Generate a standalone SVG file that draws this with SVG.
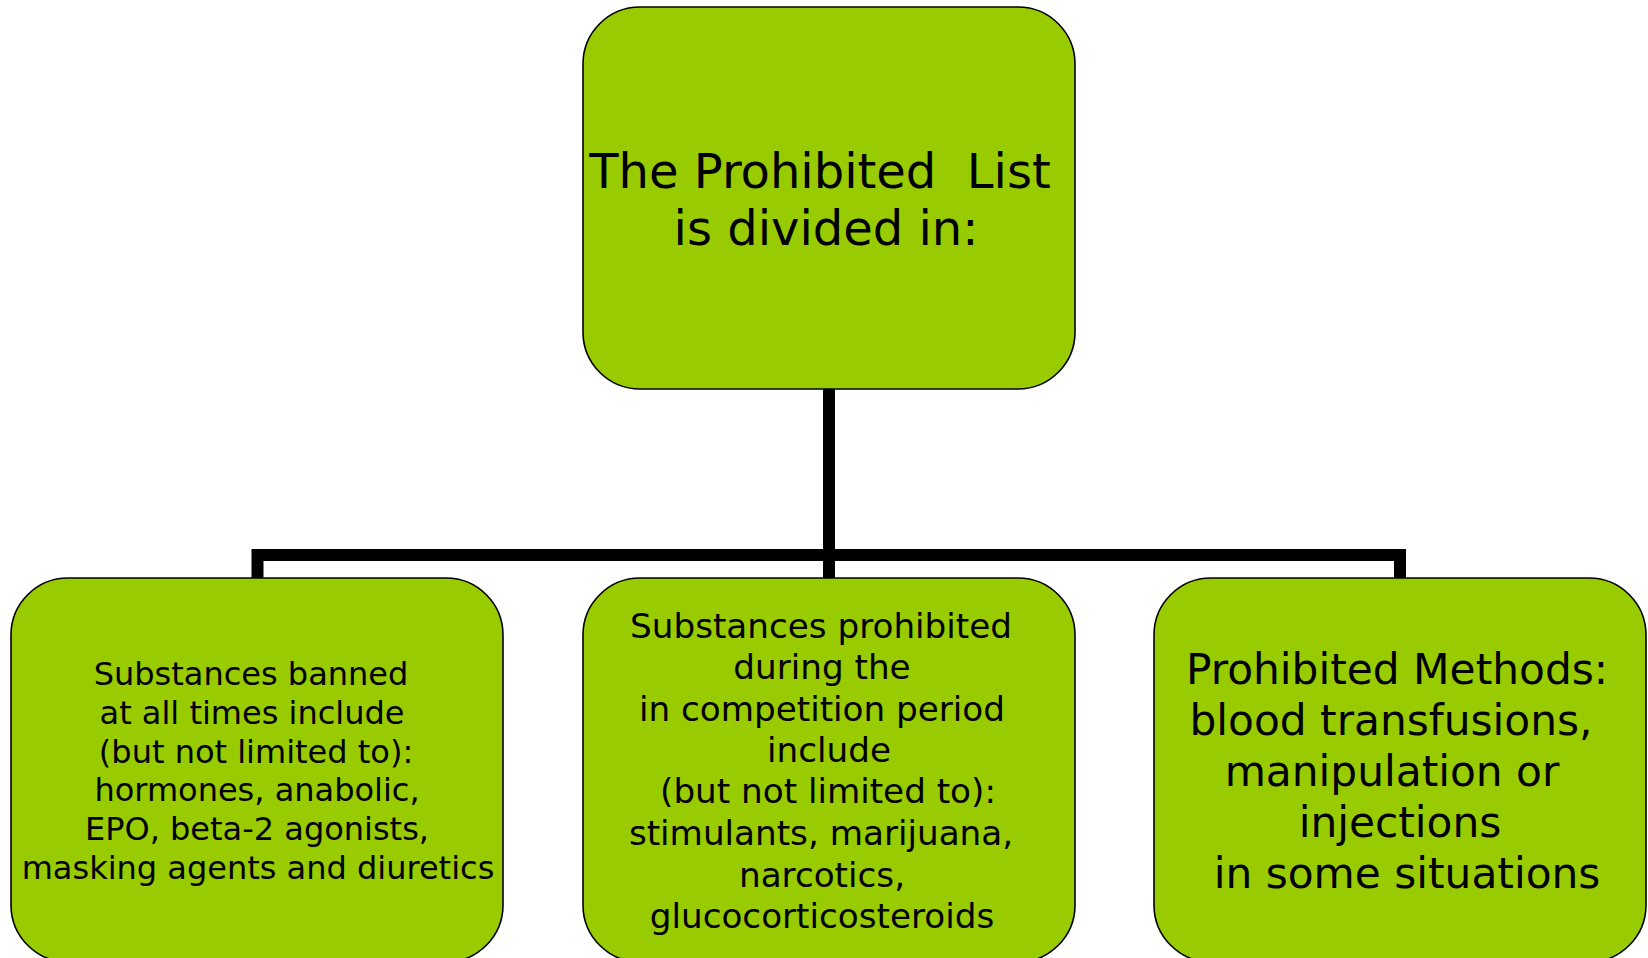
<svg xmlns="http://www.w3.org/2000/svg" width="1648" height="958" viewBox="0 0 1648 958">
<style>
.box{fill:#99CC00;stroke:#000;stroke-width:1.6}
text{font-family:"DejaVu Sans",Verdana,sans-serif;fill:#000;text-anchor:middle;white-space:pre}
.t1{font-size:48px}
.t2{font-size:32px}
.t3{font-size:34.2px}
.t4{font-size:42.3px}
.conn{fill:none;stroke:#000;stroke-width:12;stroke-linejoin:miter;stroke-linecap:butt}
</style>
<rect width="1648" height="958" fill="#fff"/>
<g id="connectors">
<path class="conn" d="M829,389 V579"/>
<path class="conn" d="M257.5,579 V555 H1400 V579"/>
</g>
<g id="node-top">
<rect class="box" x="583" y="7" width="492" height="382" rx="57" ry="57"/>
<text class="t1"><tspan x="820" y="188">The Prohibited  List</tspan><tspan x="826" y="245">is divided in:</tspan></text>
</g>
<g id="node-left">
<rect class="box" x="11" y="578" width="492" height="384" rx="57" ry="57"/>
<text class="t2"><tspan x="251" y="685">Substances banned</tspan><tspan x="252" y="724">at all times include</tspan><tspan x="256" y="763">(but not limited to):</tspan><tspan x="257" y="801">hormones, anabolic,</tspan><tspan x="257" y="840">EPO, beta-2 agonists,</tspan><tspan x="258" y="879">masking agents and diuretics</tspan></text>
</g>
<g id="node-middle">
<rect class="box" x="583" y="578" width="492" height="384" rx="57" ry="57"/>
<text class="t3"><tspan x="821" y="638">Substances prohibited</tspan><tspan x="822" y="679">during the</tspan><tspan x="822" y="721">in competition period</tspan><tspan x="829" y="762">include</tspan><tspan x="828" y="803">(but not limited to):</tspan><tspan x="821" y="845">stimulants, marijuana,</tspan><tspan x="822" y="887">narcotics,</tspan><tspan x="822" y="928">glucocorticosteroids</tspan></text>
</g>
<g id="node-right">
<rect class="box" x="1154" y="578" width="492" height="384" rx="57" ry="57"/>
<text class="t4"><tspan x="1397" y="684">Prohibited Methods:</tspan><tspan x="1391" y="735">blood transfusions,</tspan><tspan x="1392" y="786">manipulation or</tspan><tspan x="1400" y="837">injections</tspan><tspan x="1407" y="888">in some situations</tspan></text>
</g>
</svg>
